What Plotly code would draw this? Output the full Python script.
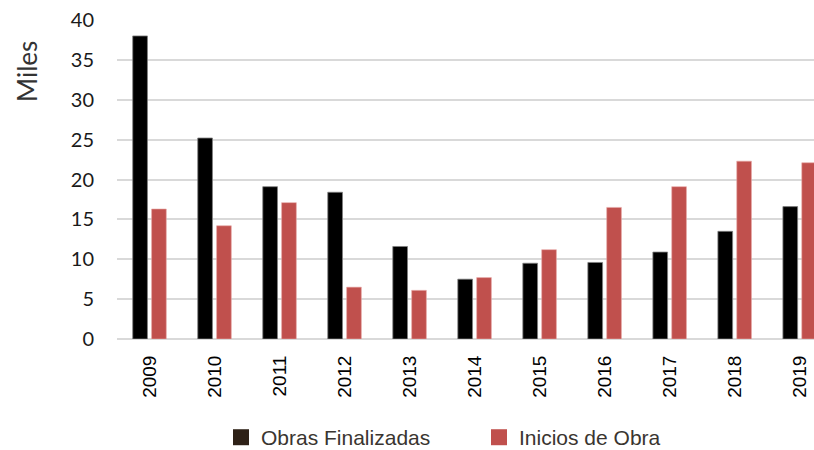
import plotly.graph_objects as go

years = ["2009", "2010", "2011", "2012", "2013", "2014", "2015", "2016", "2017", "2018", "2019"]
obras_finalizadas = [38.0, 25.2, 19.1, 18.4, 11.6, 7.5, 9.5, 9.6, 10.9, 13.5, 16.6]
inicios_obra = [16.3, 14.2, 17.1, 6.5, 6.1, 7.7, 11.2, 16.5, 19.1, 22.3, 22.1]
y_ticks = [0, 5, 10, 15, 20, 25, 30, 35, 40]

fig = go.Figure()
fig.add_trace(go.Bar(x=years, y=obras_finalizadas, name="Obras Finalizadas",
                     marker=dict(color="#000000", line=dict(color="#7f7f7f", width=0.8)),
                     showlegend=False))
fig.add_trace(go.Bar(x=years, y=inicios_obra, name="Inicios de Obra",
                     marker=dict(color="#C0504D", line=dict(color="#e8a8a6", width=0.6)),
                     showlegend=False))
# legend entries
fig.add_trace(go.Scatter(x=[None], y=[None], mode="markers", name="Obras Finalizadas",
                         marker=dict(symbol="square", size=16, color="#2E2117")))
fig.add_trace(go.Scatter(x=[None], y=[None], mode="markers", name="Inicios de Obra",
                         marker=dict(symbol="square", size=16, color="#C0504D")))

fig.update_layout(
    width=814, height=450,
    margin=dict(l=117, r=0, t=20, b=111, autoexpand=False),
    paper_bgcolor="white", plot_bgcolor="white",
    barmode="group", bargap=0.42, bargroupgap=0.22,
    font=dict(family="Liberation Sans, Arial, sans-serif", color="#000000"),
    legend=dict(orientation="h", x=(221 - 117) / 697, xanchor="left", y=-0.309, yanchor="middle",
                font=dict(size=21, color="#3a3530"), itemwidth=30,
                entrywidth=213, traceorder="normal"),
    xaxis=dict(type="category", range=[-0.5, 10.22], tickangle=-90,
               tickfont=dict(size=19, color="#000000"),
               ticks="outside", ticklen=8, tickcolor="rgba(0,0,0,0)",
               showgrid=False, showline=False, automargin=False),
    yaxis=dict(range=[0, 40], tickvals=y_ticks, ticktext=[str(v) for v in y_ticks],
               tickfont=dict(family="Lato, sans-serif", size=20, color="#1a1a1a"),
               showgrid=True, gridcolor="#d9d9d9", gridwidth=1.5,
               zeroline=True, zerolinecolor="#d9d9d9", zerolinewidth=1.5,
               ticks="outside", ticklen=18, tickcolor="rgba(0,0,0,0)", automargin=False),
    annotations=[dict(text="Miles", xref="paper", yref="paper",
                      x=(27 - 117) / 697, y=(339 - 72) / 319,
                      xanchor="center", yanchor="middle", textangle=-90, showarrow=False,
                      font=dict(family="Lato, sans-serif", size=26, color="#333333"))],
)

fig.write_html("out.html", config={"displayModeBar": False},
               post_script="document.body.style.margin='0';")
